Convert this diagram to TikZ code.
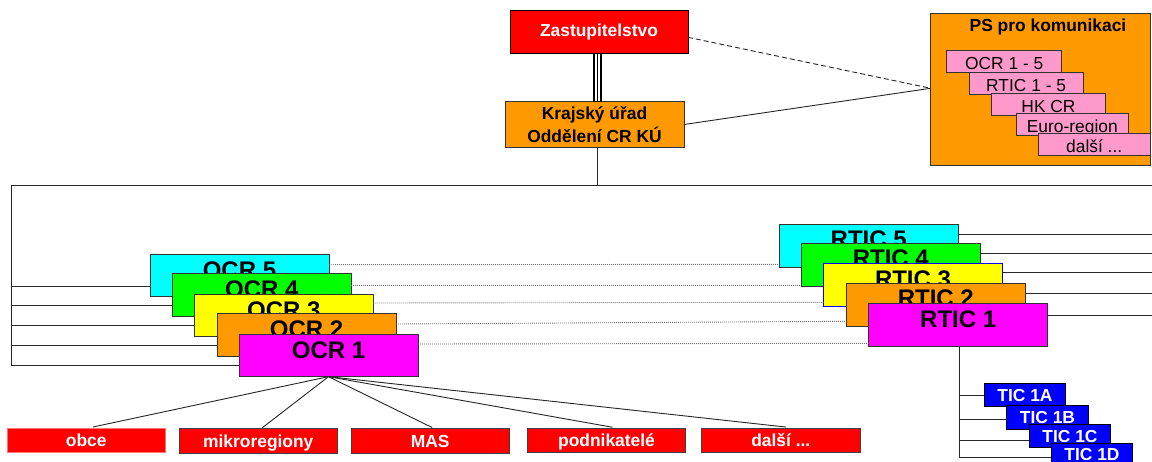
\documentclass[tikz,border=0pt]{standalone}
\usepackage{fontspec}
\setmainfont{Liberation Sans}
\definecolor{cOrange}{HTML}{FF9900}
\definecolor{cPink}{HTML}{FF99CC}
\definecolor{cEdge}{HTML}{333333}
\definecolor{cCyan}{HTML}{00FFFF}
\definecolor{cMagenta}{HTML}{FF00FF}
\definecolor{cGreen}{HTML}{00FF00}
\definecolor{cYellow}{HTML}{FFFF00}
\definecolor{cRed}{HTML}{FF0000}
\definecolor{cBlue}{HTML}{0000FF}
\begin{document}
\begin{tikzpicture}[x=1pt,y=-1pt,
  box/.style={draw=cEdge, line width=0.9pt, inner sep=0pt, outer sep=0pt, anchor=center},
  f/.style={font=\fontsize{17.4}{22.6}\selectfont\bfseries},
  big/.style={font=\fontsize{24}{28}\selectfont\bfseries, text height=17.2pt, text depth=11pt},
  ocrbox/.style={box, big, minimum width=179pt, minimum height=42.7pt},
  rticbox/.style={box, big, minimum width=179pt, minimum height=43.4pt, text depth=13pt},
  pinkbox/.style={box, fill=cPink, font=\fontsize{17.4}{20}\selectfont, text height=15.7pt, text depth=0pt, minimum height=21.7pt},
  ticbox/.style={box, draw=black, fill=cBlue, text=white, f, text height=12.5pt, text depth=0pt, minimum width=81.5pt, minimum height=23.5pt},
  redbox/.style={box, draw=black!75, fill=cRed, text=white, f, text height=12.5pt, text depth=0pt, minimum width=158.5pt, minimum height=24.5pt},
  conn/.style={draw=black!85, line width=0.9pt},
  dots/.style={draw=black!55, line width=0.9pt, dash pattern=on 1pt off 1pt},
]
\useasboundingbox[fill=white] (0,0) rectangle (1152,461);

% top
\node[box, draw=black, fill=cRed, text=white, f, minimum width=178pt, minimum height=43pt] (zast) at (599,31.5) {Zastupitelstvo};
\node[box, fill=cOrange, f, align=center, minimum width=179pt, minimum height=45.6pt] (kraj) at (594.5,124.5) {Krajský úřad\\Oddělení CR KÚ};

% PS box
\node[box, fill=cOrange, minimum width=219.8pt, minimum height=152.4pt] (ps) at (1040.6,89.5) {};
\node[f, anchor=base, inner sep=0pt] (pstitle) at (1048,31.5) {PS pro komunikaci};
\node[pinkbox, minimum width=115pt] (p1) at (1004.2,61.7) {OCR 1 - 5};
\node[pinkbox, minimum width=114.3pt] (p2) at (1026.2,83.3) {RTIC 1 - 5};
\node[pinkbox, minimum width=114.4pt] (p3) at (1048.5,104.2) {HK CR};
\node[pinkbox, minimum width=112pt] (p4) at (1072.3,124.2) {Euro-region};
\node[pinkbox, minimum width=111.7pt] (p5) at (1094.2,144.2) {další ...};

% OCR stack
\node[ocrbox, fill=cCyan] (o5) at (239.5,275.5) {OCR 5};
\node[ocrbox, fill=cGreen] (o4) at (261.8,294.8) {OCR 4};
\node[ocrbox, fill=cYellow] (o3) at (283.8,315.3) {OCR 3};
\node[ocrbox, fill=cOrange] (o2) at (306.5,334.8) {OCR 2};
\node[ocrbox, fill=cMagenta] (o1) at (328.5,355.3) {OCR 1};

% RTIC stack
\node[rticbox, fill=cCyan] (r5) at (868.7,245.7) {RTIC 5};
\node[rticbox, fill=cGreen] (r4) at (890.8,264.8) {RTIC 4};
\node[rticbox, fill=cYellow, draw=cBlue] (r3) at (913,285) {RTIC 3};
\node[rticbox, fill=cOrange] (r2) at (935.8,304.7) {RTIC 2};
\node[rticbox, fill=cMagenta] (r1) at (958.2,325) {RTIC 1};

% TIC stack
\node[ticbox] (t1) at (1025,395) {TIC 1A};
\node[ticbox] (t2) at (1047.5,417.2) {TIC 1B};
\node[ticbox] (t3) at (1070,435.8) {TIC 1C};
\node[ticbox] (t4) at (1092,454.7) {TIC 1D};

% bottom row
\node[redbox, draw=cRed!55!white] (obce) at (86.2,440.2) {obce};
\node[redbox] (mikro) at (258.3,441) {mikroregiony};
\node[redbox] (mas) at (430.2,440.8) {MAS};
\node[redbox] (podn) at (606.5,440.5) {podnikatelé};
\node[redbox] (dalsi) at (780.8,440.3) {další ...};

% coordinates
\coordinate (trunk) at (597.3,0);
\coordinate (busL) at (11,185.7);
\coordinate (busR) at (1152,185.7);
\coordinate (busB) at (11,365);
\coordinate (rEdge) at (1152,0);
\coordinate (ticbus) at (959.3,457.7);
\coordinate (psin) at (ps.west |- 0,88.3);

% triple line
\draw[line width=9.3pt, black] (zast.south -| trunk) -- (kraj.north -| trunk);
\draw[line width=5pt, white, shorten <=0.5pt, shorten >=0.5pt] (zast.south -| trunk) -- (kraj.north -| trunk);
\draw[line width=1.3pt, black] (zast.south -| trunk) -- (kraj.north -| trunk);

% links to PS box
\draw[conn, dash pattern=on 5pt off 3pt] (zast.east |- 0,37.3) -- (psin);
\draw[conn] (kraj.east) -- (psin);

% bus
\draw[conn] (kraj.south -| trunk) -- (busL -| trunk);
\draw[conn] (busR) -- (busL) -- (busB);
\draw[conn] (busL |- 0,286.7) -- (o5.west |- 0,286.7);
\draw[conn] (busL |- 0,305.7) -- (o4.west |- 0,305.7);
\draw[conn] (busL |- 0,325) -- (o3.west |- 0,325);
\draw[conn] (busL |- 0,345.7) -- (o2.west |- 0,345.7);
\draw[conn] (busB) -- (o1.west |- busB);

% dotted OCR -> RTIC
\draw[dots] (o5.east |- 0,264.7) -- (r5.west |- 0,264.3);
\draw[dots] (o4.east |- 0,285.3) -- (r4.west |- 0,285.3);
\draw[dots] (o3.east |- 0,303) -- (r3.west |- 0,302.3);
\draw[dots] (o2.east |- 0,324) -- (r2.west |- 0,321.3);
\draw[dots] (o1.east |- 0,344) -- (r1.west |- 0,343.3);

% RTIC right lines
\draw[conn] (r5.east |- 0,234) -- (rEdge |- 0,234);
\draw[conn] (r4.east |- 0,253) -- (rEdge |- 0,253);
\draw[conn] (r3.east |- 0,272.3) -- (rEdge |- 0,272.3);
\draw[conn] (r2.east |- 0,293) -- (rEdge |- 0,293);
\draw[conn] (r1.east |- 0,315) -- (rEdge |- 0,315);

% RTIC 1 -> TIC
\draw[conn] (r1.south -| ticbus) -- (ticbus);
\draw[conn] (ticbus |- 0,395) -- (t1.west |- 0,395);
\draw[conn] (ticbus |- 0,419.3) -- (t2.west |- 0,419.3);
\draw[conn] (ticbus |- 0,440) -- (t3.west |- 0,440);
\draw[conn] (ticbus) -- (t4.west |- ticbus);

% OCR 1 fan
\foreach \b/\s in {obce/7, mikro/4, mas/2, podn/6, dalsi/5}
  \draw[conn] (o1.south) -- ([xshift=\s pt, yshift=1pt]\b.north);
\end{tikzpicture}
\end{document}
